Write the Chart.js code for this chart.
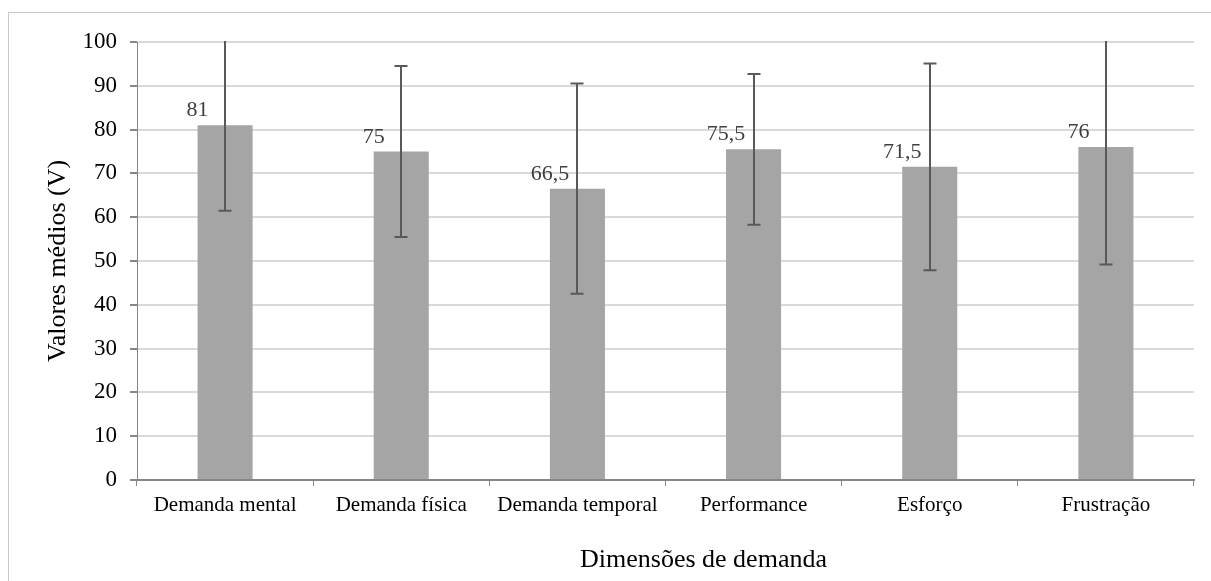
<!DOCTYPE html>
<html>
<head>
<meta charset="utf-8">
<script src="https://cdn.jsdelivr.net/npm/chart.js@4.4.1/dist/chart.umd.min.js"></script>
<style>
  html, body { margin: 0; padding: 0; background: #fff; overflow: hidden; }
  #wrap { position: relative; width: 1211px; height: 581px; }
  #frame { position: absolute; left: 8px; top: 12px; width: 1300px; height: 700px; border: 1px solid #c8c8c8; pointer-events: none; }
  canvas { position: absolute; left: 0; top: 0; }
</style>
</head>
<body>
<div id="wrap">
  <canvas id="c" width="1211" height="581"></canvas>
  <div id="frame"></div>
</div>
<script>
const categories = ['Demanda mental', 'Demanda física', 'Demanda temporal', 'Performance', 'Esforço', 'Frustração'];
const meanValues = [81, 75, 66.5, 75.5, 71.5, 76];
const errorValues = [19.5, 19.5, 24, 17.2, 23.6, 26.8];
const yTicks = [0, 10, 20, 30, 40, 50, 60, 70, 80, 90, 100];
const yTitle = 'Valores médios (V)';
const xTitle = 'Dimensões de demanda';

const serif = "'Liberation Serif', 'Times New Roman', serif";

const errorBarPlugin = {
  id: 'errorBars',
  afterDatasetsDraw(chart) {
    const ctx = chart.ctx;
    const meta = chart.getDatasetMeta(0);
    const y = chart.scales.y;
    const area = chart.chartArea;
    ctx.save();
    ctx.beginPath();
    ctx.rect(area.left, area.top - 1, area.right - area.left, area.bottom - area.top + 2);
    ctx.clip();
    ctx.strokeStyle = '#595959';
    ctx.lineWidth = 2;
    meta.data.forEach((bar, i) => {
      const v = meanValues[i], e = errorValues[i];
      const yHi = y.getPixelForValue(v + e);
      const yLo = y.getPixelForValue(v - e);
      const x = Math.round(bar.x);
      ctx.beginPath();
      ctx.moveTo(x, yHi); ctx.lineTo(x, yLo);
      ctx.moveTo(x - 6.5, yHi); ctx.lineTo(x + 6.5, yHi);
      ctx.moveTo(x - 6.5, yLo); ctx.lineTo(x + 6.5, yLo);
      ctx.stroke();
    });
    ctx.restore();

    // value labels
    ctx.save();
    ctx.font = "22px " + serif;
    ctx.fillStyle = '#404040';
    ctx.textAlign = 'center';
    ctx.textBaseline = 'alphabetic';
    meta.data.forEach((bar, i) => {
      const txt = String(meanValues[i]).replace('.', ',');
      const left = bar.x - bar.width / 2;
      ctx.fillText(txt, left, bar.y - 9);
    });
    ctx.restore();
  },
  afterDraw(chart) {
    const ctx = chart.ctx;
    const area = chart.chartArea;
    ctx.save();
    ctx.font = "26px " + serif;
    ctx.fillStyle = '#000';
    ctx.textAlign = 'center';
    ctx.textBaseline = 'alphabetic';
    ctx.fillText(xTitle, (area.left + area.right) / 2 + 38, 567);
    ctx.restore();
  }
};

new Chart(document.getElementById('c'), {
  type: 'bar',
  data: {
    labels: categories,
    datasets: [{
      data: meanValues,
      backgroundColor: '#a5a5a5',
      borderWidth: 0,
      barPercentage: 0.3125,
      categoryPercentage: 1.0
    }]
  },
  options: {
    responsive: false,
    animation: false,
    devicePixelRatio: 1,
    layout: { padding: { top: 42, right: 17, left: 0, bottom: 0 } },
    plugins: { legend: { display: false }, tooltip: { enabled: false } },
    scales: {
      x: {
        offset: true,
        grid: { drawOnChartArea: false, drawTicks: true, tickLength: 6, tickColor: '#868686', lineWidth: 1 },
        border: { display: true, color: '#868686', width: 2 },
        ticks: { color: '#000', font: { family: serif, size: 21 }, padding: 7, maxRotation: 0, autoSkip: false },
        title: { display: false },
        afterFit(scale) { scale.height = 101; }
      },
      y: {
        min: 0, max: 100,
        afterBuildTicks(scale) { scale.ticks = yTicks.map(v => ({ value: v })); },
        grid: { color: '#d9d9d9', lineWidth: 2, drawTicks: true, tickLength: 7, tickColor: '#868686' },
        border: { display: true, color: '#868686', width: 1 },
        ticks: { color: '#000', font: { family: serif, size: 23 }, padding: 13 },
        title: { display: true, text: yTitle, color: '#000', font: { family: serif, size: 26 }, padding: { top: 43, bottom: 0 } },
        afterFit(scale) { scale.width = 137; }
      }
    }
  },
  plugins: [errorBarPlugin]
});
</script>
</body>
</html>
